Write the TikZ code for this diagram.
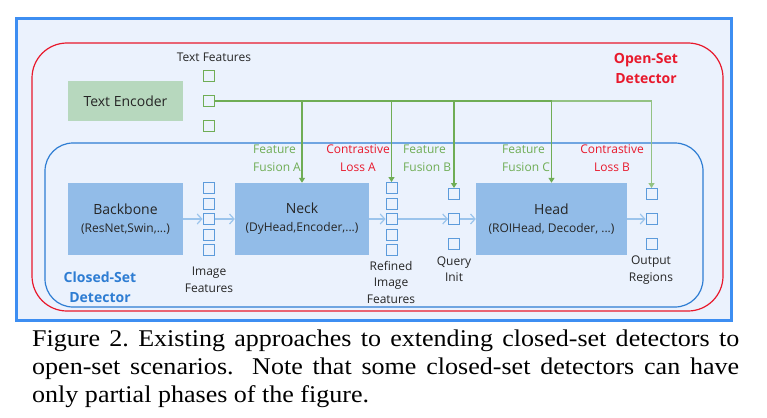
\documentclass[tikz,border=0pt]{standalone}
\usepackage{fontspec}
\setmainfont{Liberation Serif}
\newfontfamily\capfont[FakeStretch=1.085]{Liberation Serif}
\newfontfamily\diag{Open Sans}
\newcommand\subtxt{\fontsize{12}{19}\selectfont}
\usetikzlibrary{arrows.meta}
\definecolor{framebl}{HTML}{3D8EF2}
\definecolor{bgbl}{HTML}{EBF2FD}
\definecolor{openred}{HTML}{E8192C}
\definecolor{closedbl}{HTML}{2E7DD3}
\definecolor{boxbl}{HTML}{92BCE8}
\definecolor{boxgr}{HTML}{B7D8BE}
\definecolor{lngr}{HTML}{6FAD55}
\definecolor{lngrl}{HTML}{93C283}
\definecolor{sqbl}{HTML}{5C9BDB}
\definecolor{arrbl}{HTML}{9BC4EC}
\definecolor{txt}{HTML}{262626}
\begin{document}
\begin{tikzpicture}[x=1pt,y=-1pt,
  blk/.style={fill=boxbl, minimum height=72pt, inner sep=0pt, align=center, text=txt, font=\diag\fontsize{14}{19}\selectfont},
  sq/.style={draw=sqbl, line width=1pt, minimum size=11pt, inner sep=0pt},
  gsq/.style={sq, draw=lngr},
  flow/.style={draw=arrbl, line width=1.2pt, -{Straight Barb[length=4.5pt,width=10pt,line width=1.2pt]}},
  fuse/.style={draw=lngr, line width=1.2pt, -{Triangle[length=5pt,width=6pt]}},
  lbl/.style={font=\diag\fontsize{12}{16.5}\selectfont, text=txt, align=center, inner sep=0pt},
  tag/.style={font=\diag\fontsize{12}{18}\selectfont, align=left, inner sep=0pt},
  grp/.style={font=\diag\bfseries\fontsize{14}{20}\selectfont, align=center, inner sep=0pt}
]
\useasboundingbox (0,0) rectangle (767,417);
\fill[white] (0,0) rectangle (767,417);
% frames
\draw[framebl, fill=bgbl, line width=3pt] (16.5,18.5) rectangle (731.5,320.5);
\draw[openred, line width=1.2pt, rounded corners=35pt] (32,43) rectangle (723,311);
\draw[closedbl, line width=1.2pt, rounded corners=28pt] (45,143) rectangle (703,307);
\node[grp, text=openred] (openlbl) at (646,68) {Open-Set\\Detector};
\node[grp, text=closedbl] (closedlbl) at (100,287) {Closed-Set\\Detector};

% text branch
\node[blk, fill=boxgr, minimum width=115pt, minimum height=40pt] (tenc) at (125.5,101) {Text Encoder};
\node[gsq] (t1) at (209,76) {};
\node[gsq] (t2) at (209,101) {};
\node[gsq] (t3) at (209,126) {};
\node[lbl] (tflbl) at (214,57) {Text Features};

% main pipeline
\node[blk, minimum width=115pt] (bb) at (125.5,219) {Backbone\\[-1pt]{\subtxt (ResNet,Swin,...)}};
\foreach \i/\y in {1/188,2/203.5,3/219,4/234.5,5/250} \node[sq] (i\i) at (208.5,\y) {};
\node[lbl] (iflbl) at (209,280) {Image\\Features};
\node[blk, minimum width=134pt] (neck) at (302,219) {Neck\\[-1pt]{\subtxt (DyHead,Encoder,...)}};
\foreach \i/\y in {1/188,2/203.5,3/219,4/234.5,5/250} \node[sq] (r\i) at (391.5,\y) {};
\node[lbl] (rflbl) at (391,282) {Refined\\Image\\Features};
\foreach \i/\y in {1/194,2/219,3/244} \node[sq] (q\i) at (454,\y) {};
\node[lbl] (qlbl) at (454,269) {Query\\Init};
\node[blk, minimum width=151pt] (head) at (551.5,219) {Head\\[-1pt]{\subtxt (ROIHead, Decoder, ...)}};
\foreach \i/\y in {1/194,2/219,3/244} \node[sq] (o\i) at (651.5,\y) {};
\node[lbl] (olbl) at (651,270) {Output\\Regions};

% flow arrows
\draw[flow] (bb.east) -- (i3.west);
\draw[flow] (i3.east) -- (neck.west);
\draw[flow] (neck.east) -- (r3.west);
\draw[flow] (r3.east) -- (q2.west);
\draw[flow] (q2.east) -- (head.west);
\draw[flow] (head.east) -- (o2.west);

% fusion lines
\draw[fuse] (t2.east) -| (neck.north);
\draw[fuse] (t2.east) -| (r1.north);
\draw[fuse] (t2.east) -| (q1.north);
\draw[fuse] (t2.east) -| (head.north);
\draw[fuse, draw=lngrl] (t2.east -| head.north) -| (o1.north);

% stage tags
\node[tag, text=lngr, anchor=west] (ffa) at (253,158) {Feature\\Fusion A};
\node[tag, text=openred, align=center] (cla) at (358,158) {Contrastive\\Loss A};
\node[tag, text=lngr, anchor=west] (ffb) at (403,158) {Feature\\Fusion B};
\node[tag, text=lngr, anchor=west] (ffc) at (502,158) {Feature\\Fusion C};
\node[tag, text=openred, align=center] (clb) at (612,158) {Contrastive\\Loss B};

% caption
\node[anchor=north west, inner sep=0pt, text width=707pt, align=justify, font=\capfont\fontsize{24}{28}\selectfont] (cap) at (32,330)
  {Figure 2.\ Existing approaches to extending closed-set detectors to\linebreak open-set scenarios.  Note that some closed-set detectors can have\linebreak only partial phases of the figure.};
\end{tikzpicture}
\end{document}
